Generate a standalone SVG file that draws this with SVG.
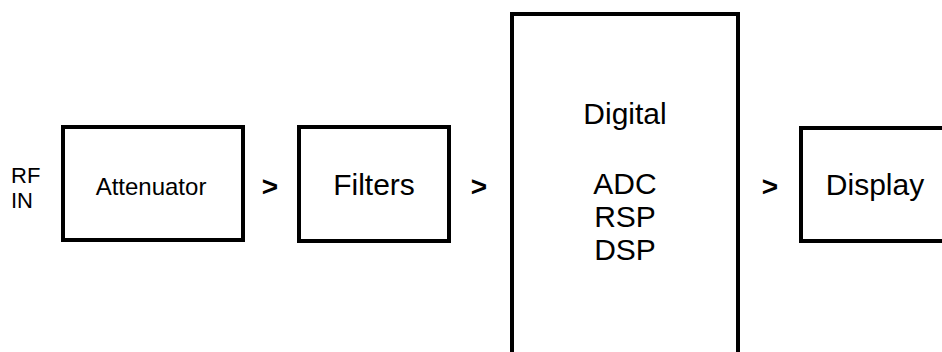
<svg xmlns="http://www.w3.org/2000/svg" width="942" height="352" viewBox="0 0 942 352">
<style>
.box{fill:#fff;stroke:#000;stroke-width:4}
.t{font-family:"Liberation Sans",Arial,sans-serif;fill:#000;text-anchor:middle}
.big{font-size:30px}
.mid{font-size:24px}
.small{font-size:22px;text-anchor:start}
.arr{font-family:"Liberation Sans",Arial,sans-serif;font-size:28px;font-weight:bold;text-anchor:middle;fill:#000}
</style>
<rect width="942" height="352" fill="#fff"/>
<g id="rfin">
<text class="t small" x="11" y="183">RF</text>
<text class="t small" x="11" y="208">IN</text>
</g>
<g id="attenuator">
<rect class="box" x="63" y="127" width="180" height="113"/>
<text class="t mid" x="151" y="195">Attenuator</text>
</g>
<g id="filters">
<rect class="box" x="299" y="127" width="150" height="114"/>
<text class="t big" x="374" y="195">Filters</text>
</g>
<g id="digital">
<rect class="box" x="512" y="14" width="226" height="350"/>
<text class="t big" x="625" y="124">Digital</text>
<text class="t big" x="625" y="194">ADC</text>
<text class="t big" x="625" y="227">RSP</text>
<text class="t big" x="625" y="260">DSP</text>
</g>
<g id="display">
<rect class="box" x="801" y="128" width="160" height="113"/>
<text class="t big" x="875" y="195">Display</text>
</g>
<g id="connectors">
<text class="arr" x="270" y="196">&gt;</text>
<text class="arr" x="479" y="196">&gt;</text>
<text class="arr" x="770" y="196">&gt;</text>
</g>
</svg>
